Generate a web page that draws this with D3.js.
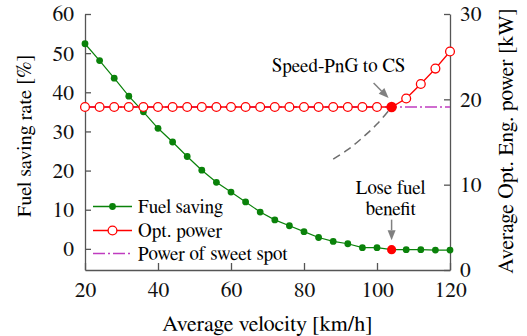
<!DOCTYPE html>
<html>
<head>
<meta charset="utf-8">
<script src="https://cdn.jsdelivr.net/npm/d3@7"></script>
<style>
  html, body { margin: 0; padding: 0; background: #fff; }
  svg { display: block; }
  svg text { font-family: "FreeSerif", "Liberation Serif", "Times New Roman", serif; }
</style>
</head>
<body>
<svg id="chart" width="527" height="336"></svg>
<script>
// Average velocity samples [km/h]
const velocity = [20, 24, 28, 32, 36, 40, 44, 48, 52, 56, 60, 64, 68, 72, 76, 80, 84, 88, 92, 96, 100, 104, 108, 112, 116, 120];
// Fuel saving rate [%] (left axis)
const fuelSaving = [52.4, 48.1, 43.6, 39.0, 35.0, 30.8, 27.3, 23.6, 20.1, 17.0, 14.5, 12.0, 9.4, 7.4, 5.9, 4.4, 2.9, 1.9, 1.3, 0.3, 0.3, -0.2, -0.2, -0.2, -0.3, -0.3];
// Average optimal engine power [kW] (right axis)
const optPower = [19.1, 19.1, 19.1, 19.1, 19.1, 19.1, 19.1, 19.1, 19.1, 19.1, 19.1, 19.1, 19.1, 19.1, 19.1, 19.1, 19.1, 19.1, 19.1, 19.1, 19.1, 19.1, 20.1, 21.8, 23.6, 25.6];
// Engine power of the sweet spot [kW]
const sweetSpotPower = 19.1;
// Velocity where Speed-PnG switches to CS and the fuel benefit is lost
const switchVelocity = 104;
// Rising power trend leading into the switch point
const trendVelocity = [88, 92, 96, 100, 104];
const trendPower = [13.0, 14.1, 15.5, 17.1, 19.1];

const xTicks = [20, 40, 60, 80, 100, 120];
const leftTicks = [0, 10, 20, 30, 40, 50, 60];
const rightTicks = [0, 10, 20, 30];
const legendLabels = ["Fuel saving", "Opt. power", "Power of sweet spot"];

const GREEN = "#0a820a", RED = "#ff0000", MAGENTA = "#c03cc0", GRAY = "#6e6e6e", AXIS = "#555";
const TICK_FONT = 21.5, NOTE_FONT = 19;

const svg = d3.select("#chart");
const plot = { left: 85, right: 450, top: 14, bottom: 270 };

const x = d3.scaleLinear().domain([20, 120]).range([plot.left, plot.right]);
const yL = d3.scaleLinear().domain([-5.4, 60]).range([plot.bottom, plot.top]);
const yR = d3.scaleLinear().domain([0, 30]).range([plot.bottom, plot.top]);

// ---- axes ----
function styleAxis(g) {
  g.attr("font-family", null).attr("font-size", TICK_FONT);
  g.select(".domain").attr("stroke", AXIS).attr("stroke-width", 1.3);
  g.selectAll(".tick line").attr("stroke", AXIS).attr("stroke-width", 1.3);
  g.selectAll(".tick text").attr("fill", "#111");
}

const gx = svg.append("g")
  .attr("transform", `translate(0,${plot.bottom})`)
  .call(d3.axisBottom(x).tickValues(xTicks).tickSizeInner(-7).tickSizeOuter(0))
  .call(styleAxis);
gx.selectAll(".tick text").attr("y", 26.5).attr("dy", null);

const gl = svg.append("g")
  .attr("transform", `translate(${plot.left},0)`)
  .call(d3.axisLeft(yL).tickValues(leftTicks).tickSizeInner(-6).tickSizeOuter(0).tickPadding(11))
  .call(styleAxis);

const gr = svg.append("g")
  .attr("transform", `translate(${plot.right},0)`)
  .call(d3.axisRight(yR).tickValues(rightTicks).tickSizeInner(-6).tickSizeOuter(0).tickPadding(10))
  .call(styleAxis);

// axis titles
svg.append("text")
  .attr("x", 267.5)
  .attr("y", 331)
  .attr("text-anchor", "middle")
  .attr("font-size", 22)
  .text("Average velocity [km/h]");

svg.append("text")
  .attr("transform", `translate(31,${(plot.top + plot.bottom) / 2 - 6}) rotate(-90)`)
  .attr("text-anchor", "middle")
  .attr("font-size", 20.5)
  .text("Fuel saving rate [%]");

svg.append("text")
  .attr("transform", `translate(513,${(plot.top + plot.bottom) / 2 - 1}) rotate(-90)`)
  .attr("text-anchor", "middle")
  .attr("font-size", 21.5)
  .text("Average Opt. Eng. power [kW]");

// ---- series ----
const sweetSpot = [{ v: 20, p: sweetSpotPower }, { v: 120, p: sweetSpotPower }];
svg.append("path")
  .datum(sweetSpot)
  .attr("fill", "none")
  .attr("stroke", MAGENTA)
  .attr("stroke-width", 1.5)
  .attr("stroke-dasharray", "12,3,2,3")
  .attr("d", d3.line().x(d => x(d.v)).y(d => yR(d.p)));

const trend = trendVelocity.map((v, i) => ({ v, p: trendPower[i] }));
svg.append("path")
  .datum(trend)
  .attr("fill", "none")
  .attr("stroke", GRAY)
  .attr("stroke-width", 1.5)
  .attr("stroke-dasharray", "8,5")
  .attr("d", d3.line().curve(d3.curveCatmullRom).x(d => x(d.v)).y(d => yR(d.p)));

const fuel = velocity.map((v, i) => ({ v, f: fuelSaving[i] }));
const power = velocity.map((v, i) => ({ v, p: optPower[i] }));

svg.append("path")
  .datum(fuel)
  .attr("fill", "none")
  .attr("stroke", GREEN)
  .attr("stroke-width", 1.2)
  .attr("d", d3.line().x(d => x(d.v)).y(d => yL(d.f)));

svg.append("g").selectAll("circle")
  .data(fuel.filter(d => d.v !== switchVelocity))
  .join("circle")
  .attr("cx", d => x(d.v))
  .attr("cy", d => yL(d.f))
  .attr("r", 3.4)
  .attr("fill", GREEN);

svg.append("path")
  .datum(power)
  .attr("fill", "none")
  .attr("stroke", RED)
  .attr("stroke-width", 1.4)
  .attr("d", d3.line().x(d => x(d.v)).y(d => yR(d.p)));

svg.append("g").selectAll("circle")
  .data(power.filter(d => d.v !== switchVelocity))
  .join("circle")
  .attr("cx", d => x(d.v))
  .attr("cy", d => yR(d.p))
  .attr("r", 4.4)
  .attr("fill", "#fff")
  .attr("stroke", RED)
  .attr("stroke-width", 1.3);

// highlighted switch points
const sw = velocity.indexOf(switchVelocity);
svg.append("circle")
  .attr("cx", x(switchVelocity)).attr("cy", yR(optPower[sw]))
  .attr("r", 5.2).attr("fill", RED);
svg.append("circle")
  .attr("cx", x(switchVelocity)).attr("cy", yL(fuelSaving[sw]))
  .attr("r", 4.6).attr("fill", RED);

// ---- annotations ----
function arrow(x1, y1, x2, y2) {
  const ang = Math.atan2(y2 - y1, x2 - x1);
  const len = 10, half = 4;
  const bx = x2 - len * Math.cos(ang), by = y2 - len * Math.sin(ang);
  svg.append("line")
    .attr("x1", x1).attr("y1", y1).attr("x2", bx).attr("y2", by)
    .attr("stroke", "#808080").attr("stroke-width", 1.5);
  const px = -Math.sin(ang) * half, py = Math.cos(ang) * half;
  svg.append("path")
    .attr("d", `M${x2},${y2}L${bx + px},${by + py}L${bx - px},${by - py}Z`)
    .attr("fill", "#808080");
}

const sx = x(switchVelocity), sy = yR(optPower[sw]);
svg.append("text")
  .attr("x", sx - 53).attr("y", sy - 35)
  .attr("text-anchor", "middle").attr("font-size", NOTE_FONT)
  .text("Speed-PnG to CS");
arrow(sx - 18, sy - 24, sx - 3, sy - 9);

const fy = yL(fuelSaving[sw]);
const lose = svg.append("text")
  .attr("text-anchor", "middle").attr("font-size", NOTE_FONT);
lose.append("tspan").attr("x", sx - 1).attr("y", fy - 56).text("Lose fuel");
lose.append("tspan").attr("x", sx - 1).attr("y", fy - 34.5).text("benefit");
arrow(sx, fy - 30, sx, fy - 9.5);

// ---- legend ----
const legend = svg.append("g");
const rowY = [206.5, 230.5, 253.5];
const lx1 = 93, lx2 = 132, lm = 112.5;
legendLabels.forEach((label, i) => {
  const y = rowY[i];
  const line = legend.append("line")
    .attr("x1", lx1).attr("x2", lx2).attr("y1", y).attr("y2", y)
    .attr("stroke-width", i === 2 ? 1.5 : 1.3);
  if (i === 0) {
    line.attr("stroke", GREEN);
    legend.append("circle").attr("cx", lm).attr("cy", y).attr("r", 3.4).attr("fill", GREEN);
  } else if (i === 1) {
    line.attr("stroke", RED);
    legend.append("circle").attr("cx", lm).attr("cy", y).attr("r", 4.4)
      .attr("fill", "#fff").attr("stroke", RED).attr("stroke-width", 1.3);
  } else {
    line.attr("stroke", MAGENTA).attr("stroke-dasharray", "12,3,2,3");
  }
  legend.append("text")
    .attr("x", 138).attr("y", y).attr("dy", "0.33em")
    .attr("font-size", NOTE_FONT)
    .text(label);
});
</script>
</body>
</html>
